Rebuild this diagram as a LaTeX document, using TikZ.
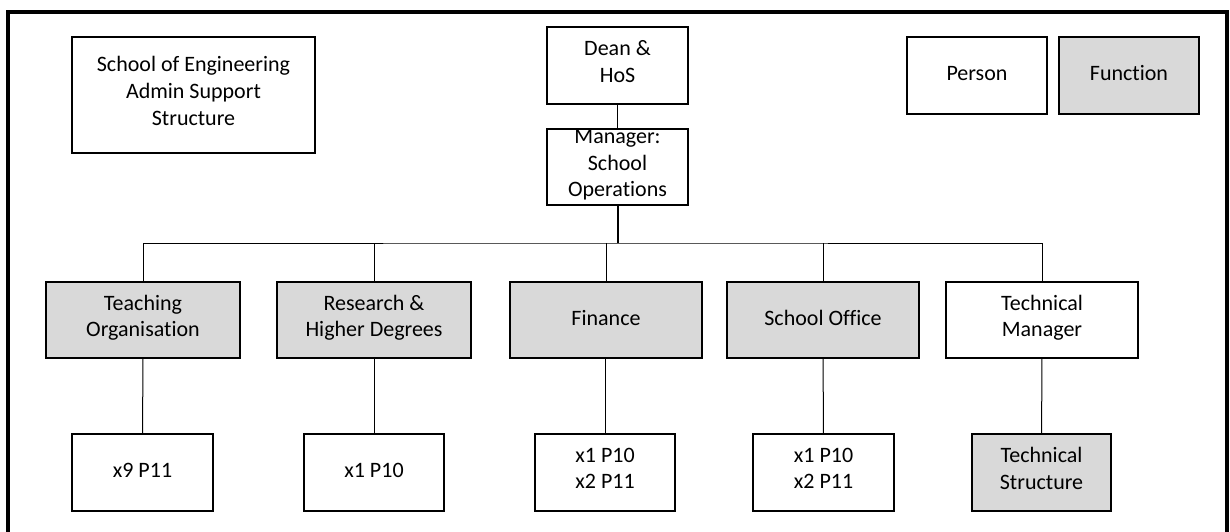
\documentclass[tikz,border=0pt]{standalone}
\usepackage{fontspec}
\setmainfont{Carlito}[Ligatures=NoCommon]
\definecolor{fnfill}{HTML}{D9D9D9}
\begin{document}
\begin{tikzpicture}[x=1pt,y=-1pt,
  box/.style={draw=black,line width=1.3pt,inner sep=0pt,align=center,
    font=\fontsize{22}{26.7}\selectfont,
    execute at begin node=\strut, execute at end node=\strut},
  person/.style={box,fill=white},
  func/.style={box,fill=fnfill},
  wide/.style={minimum width=194pt},
  mid/.style={minimum width=192pt},
  small/.style={minimum width=140pt},
  tall/.style={minimum height=77pt},
  link/.style={line width=1pt},
  trunk/.style={line width=2.2pt}]
\useasboundingbox (0,0) rectangle (1230,532);
% outer frame, open at the bottom edge
\draw[line width=3.6pt] (8,560) -- (8,12) -- (1227,12) -- (1227,560);

% heading and key
\node[person,minimum width=243pt,minimum height=116pt] (title) at (193.5,95) {School of Engineering\\Admin Support\\Structure};
\node[person,small,tall] (person) at (977,75.5) {Person};
\node[func,small,tall] (function) at (1129,75.5) {Function};

% top of the hierarchy
\node[person,minimum width=141pt,tall] (dean) at (617.5,65.5) {Dean \&\\HoS};
\node[person,minimum width=141pt,minimum height=76pt] (mgr) at (617.5,167) {Manager:\\School\\Operations};

% second level
\node[func,wide,minimum height=76pt] (teach) at (143,320) {Teaching\\Organisation};
\node[func,wide,minimum height=76pt] (research) at (374,320) {Research \&\\Higher Degrees};
\node[func,mid,minimum height=76pt] (finance) at (606,320) {Finance};
\node[func,mid,minimum height=76pt] (office) at (823,320) {School Office};
\node[person,mid,minimum height=76pt] (techmgr) at (1042,320) {Technical\\Manager};

% third level
\node[person,minimum width=141pt,tall] (teachstaff) at (142.5,472.5) {x9 P11};
\node[person,small,tall] (researchstaff) at (374,472.5) {x1 P10};
\node[person,small,tall] (financestaff) at (605,472.5) {x1 P10\\x2 P11};
\node[person,minimum width=141pt,tall] (officestaff) at (823.5,472.5) {x1 P10\\x2 P11};
\node[func,minimum width=139pt,tall] (techstruct) at (1041.5,472.5) {Technical\\Structure};

% connectors
\coordinate (bar) at (618,243);
\draw[link] (dean) -- (mgr);
\draw[trunk] (mgr.south -| bar) -- (bar);
\draw[link] (teach.north) |- (bar) -| (techmgr.north);
\draw[link] (research.north) -- (research.north |- bar);
\draw[link] (finance.north) -- (finance.north |- bar);
\draw[link] (office.north) -- (office.north |- bar);
\draw[link] (teach) -- (teachstaff);
\draw[link] (research) -- (researchstaff);
\draw[link] (finance.south) -- (finance.south -| financestaff.north) -- (financestaff.north);
\draw[link] (office) -- (officestaff);
\draw[link] (techmgr) -- (techstruct);
\end{tikzpicture}
\end{document}
